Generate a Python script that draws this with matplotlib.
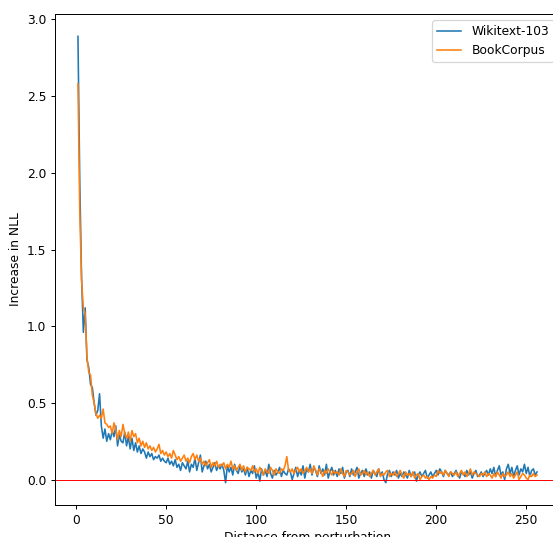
import numpy as np
import matplotlib
matplotlib.use("Agg")
import matplotlib.pyplot as plt

distance = np.arange(1, 257)

wikitext = [
    2.89, 1.95, 1.32, 0.96, 1.12, 0.78, 0.73, 0.62, 0.60, 0.50, 0.42, 0.45, 0.56, 0.35, 0.27, 0.33,
    0.25, 0.30, 0.26, 0.32, 0.28, 0.35, 0.22, 0.29, 0.25, 0.24, 0.31, 0.22, 0.28, 0.20, 0.27, 0.19,
    0.24, 0.18, 0.22, 0.17, 0.20, 0.18, 0.14, 0.18, 0.15, 0.17, 0.13, 0.15, 0.14, 0.16, 0.12, 0.14,
    0.12, 0.11, 0.14, 0.10, 0.12, 0.09, 0.13, 0.08, 0.10, 0.06, 0.11, 0.09, 0.07, 0.12, 0.05, 0.10,
    0.08, 0.14, 0.06, 0.11, 0.16, 0.05, 0.09, 0.12, 0.07, 0.10, 0.05, 0.08, 0.11, 0.06, 0.09, 0.07,
    0.10, 0.06, -0.02, 0.09, 0.05, 0.08, 0.03, 0.10, 0.06, 0.04, 0.09, 0.05, 0.07, 0.03, 0.08, 0.02,
    0.06, 0.04, 0.09, 0.01, 0.05, -0.01, 0.07, 0.03, 0.06, 0.02, 0.10, 0.04, 0.01, 0.06, 0.03, 0.05,
    0.08, 0.02, 0.06, 0.04, 0.03, 0.07, 0.05, 0.00, 0.04, 0.08, 0.02, 0.06, 0.03, 0.09, 0.01, 0.07,
    0.05, 0.10, 0.03, 0.08, 0.06, 0.02, 0.09, 0.04, 0.07, 0.03, 0.10, 0.01, 0.05, 0.08, 0.03, 0.06,
    0.02, 0.07, 0.04, 0.08, 0.01, 0.05, 0.06, 0.02, 0.07, 0.03, 0.05, 0.08, 0.01, 0.04, 0.06, 0.02,
    0.07, 0.03, 0.05, 0.01, 0.06, 0.04, 0.02, 0.07, 0.03, 0.05, 0.00, -0.02, 0.04, 0.06, 0.02, 0.05,
    0.03, 0.06, 0.01, 0.04, 0.02, 0.05, 0.03, 0.01, 0.06, 0.02, 0.04, 0.05, -0.01, 0.03, 0.05, 0.02,
    0.04, 0.06, 0.01, 0.03, 0.05, 0.02, 0.04, 0.06, 0.03, 0.07, 0.05, 0.02, 0.06, 0.04, 0.03, 0.05,
    0.02, 0.04, 0.06, 0.03, 0.01, 0.05, 0.04, 0.02, 0.06, 0.03, 0.05, 0.01, 0.04, 0.06, 0.02, 0.03,
    0.05, 0.02, 0.04, 0.06, 0.03, 0.07, 0.04, 0.08, 0.02, 0.06, 0.09, 0.03, 0.05, 0.00, 0.07, 0.10,
    0.04, 0.08, 0.02, 0.06, 0.09, 0.03, 0.07, 0.05, 0.10, 0.04, 0.08, 0.02, 0.06, 0.07, 0.03, 0.05,
]

bookcorpus = [
    2.58, 1.75, 1.30, 1.12, 1.08, 0.80, 0.70, 0.68, 0.55, 0.50, 0.43, 0.40, 0.42, 0.40, 0.46, 0.37,
    0.36, 0.34, 0.35, 0.30, 0.37, 0.33, 0.26, 0.32, 0.28, 0.36, 0.30, 0.27, 0.31, 0.25, 0.32, 0.28,
    0.30, 0.24, 0.27, 0.22, 0.25, 0.21, 0.24, 0.20, 0.22, 0.19, 0.21, 0.18, 0.20, 0.23, 0.17, 0.19,
    0.16, 0.18, 0.15, 0.17, 0.14, 0.19, 0.16, 0.13, 0.15, 0.12, 0.14, 0.16, 0.12, 0.14, 0.11, 0.15,
    0.17, 0.13, 0.16, 0.12, 0.14, 0.10, 0.12, 0.09, 0.11, 0.13, 0.08, 0.11, 0.09, 0.12, 0.08, 0.10,
    0.09, 0.11, 0.07, 0.10, 0.08, 0.12, 0.07, 0.09, 0.06, 0.08, 0.10, 0.06, 0.09, 0.05, 0.08, 0.07,
    0.06, 0.09, 0.05, 0.07, 0.04, 0.08, 0.06, 0.03, 0.07, 0.05, 0.04, 0.08, 0.06, 0.03, 0.07, 0.05,
    0.04, 0.07, 0.06, 0.09, 0.15, 0.06, 0.05, 0.07, 0.04, 0.06, 0.08, 0.05, 0.07, 0.04, 0.06, 0.08,
    0.05, 0.07, 0.04, 0.09, 0.06, 0.03, 0.07, 0.05, 0.02, 0.06, 0.04, 0.07, 0.05, 0.03, 0.06, 0.04,
    0.05, 0.03, 0.07, 0.04, 0.02, 0.06, 0.05, 0.03, 0.04, 0.06, 0.02, 0.05, 0.07, 0.03, 0.04, 0.06,
    0.03, 0.05, 0.02, 0.04, 0.06, 0.03, 0.05, 0.07, 0.02, 0.04, 0.03, 0.05, 0.06, 0.02, 0.04, 0.03,
    0.05, 0.02, 0.04, 0.06, 0.03, 0.01, 0.05, 0.03, 0.04, 0.02, 0.05, 0.01, 0.03, 0.04, 0.00, 0.02,
    0.03, 0.01, 0.02, 0.00, 0.02, 0.01, 0.03, 0.02, 0.06, 0.04, 0.05, 0.03, 0.06, 0.04, 0.02, 0.05,
    0.04, 0.03, 0.05, 0.02, 0.04, 0.06, 0.03, 0.05, 0.02, 0.04, 0.07, 0.03, 0.05, 0.04, 0.03, 0.02,
    0.04, 0.03, 0.05, 0.02, 0.04, 0.03, 0.01, 0.04, 0.02, 0.05, 0.03, 0.01, 0.04, 0.02, 0.03, 0.05,
    0.02, 0.04, 0.01, 0.03, 0.05, 0.00, 0.02, 0.04, 0.03, 0.01, 0.00, 0.03, 0.02, 0.04, 0.02, 0.03,
]

# smaller dpi so the text comes out at the same scale as the reference
dpi = 88
fig = plt.figure(figsize=(553 / dpi, 537 / dpi), dpi=dpi)
# the original figure was cropped on the right, so the axes run past the edge
ax = fig.add_axes([55 / 553, 32 / 537, 505 / 553, 491 / 537])

ax.plot(distance, wikitext, label="Wikitext-103", linewidth=1.3)
ax.plot(distance, bookcorpus, label="BookCorpus", linewidth=1.3)
ax.axhline(0, color="red", linewidth=0.8)

ax.set_xlabel("Distance from perturbation")
ax.set_ylabel("Increase in NLL")
ax.legend(loc="upper right")

fig.savefig("out.png", dpi=dpi)
